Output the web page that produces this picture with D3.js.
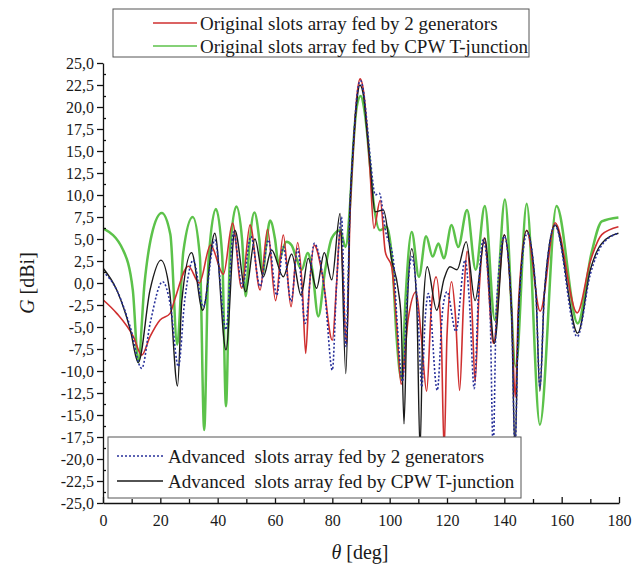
<!DOCTYPE html>
<html>
<head>
<meta charset="utf-8">
<script src="https://cdn.jsdelivr.net/npm/d3@7"></script>
<style>
  body { margin: 0; background: #fff; }
  svg { display: block; }
  text { font-family: "Liberation Serif", "Times New Roman", serif; fill: #1a1a1a; }
</style>
</head>
<body>
<div id="chart"></div>
<script>
// ---- data: [theta deg, G dBi] ----
const origGen = [[0,-1.9],[4.8,-3.45],[10.6,-6.1],[13.5,-8.2],[16.4,-6.1],[19.9,-4.2],[23.4,-3.45],[25,-1.9],
  [29.8,1.9],[33.6,0],[37.5,4.3],[42,1],[45.2,6.8],[48.4,-0.6],[51.3,6.6],[54.8,-0.8],[57.4,6.1],[60.2,-2],
  [62.9,5.45],[65.6,-2.7],[67.9,4.6],[69.6,-1],[70.7,-8.0],[71.9,-1],[73.7,4.3],[76.5,1],[80,-6.5],[81.5,0],
  [82.7,6.0],[85,-7],[86.2,8],[87.3,15],[88.5,21],[89.7,23.2],[91,21.5],[92,18],[93.1,13],[94.5,6.2],[96.7,9.4],
  [98.5,3.5],[100.7,1.85],[102.5,-5],[104,-11.5],[106.5,-4],[109.2,-1.0],[111,-6],[112.9,-12.3],[114.5,-3],
  [116.2,0.7],[118,-6],[119,-19],[120,-6],[121.6,0.15],[123,-4],[124.4,-12.2],[125.8,-2],[127,3.6],[128.7,-3],
  [129.8,-11.2],[131.2,-1],[133,5.1],[136.2,-6.85],[140,5.45],[142.5,-3],[143.8,-13],[145,-2],[147.8,6.0],
  [152.5,-3.2],[157.7,6.85],[165.4,-3.4],[170,2.5],[174,5.5],[179.8,6.4]];

const origCpw = [[0,6.2],[7,3.75],[10.4,-0.8],[12.3,-9.0],[14.5,0],[17,5.5],[20.5,7.95],[23.5,5.5],[25.9,-7],
  [28,3.5],[31.3,7.5],[33.8,3],[35.3,-16.7],[36.8,2.5],[39.4,8.4],[41.6,3],[42.9,-14],[44.3,3.5],[46.5,8.7],
  [48.5,5],[49.8,-1.5],[51,4],[52.8,8.0],[54.5,5],[55.7,1.0],[56.8,4.0],[58.3,7.1],[60,5],[61.2,2.2],[62.4,3.5],
  [64,4.7],[65.8,4.3],[67.3,3],[69.3,1.5],[71.4,3.4],[73,1.5],[75.1,-3.8],[77.5,1.5],[79.8,5.1],[82.7,6.0],
  [84.6,4.1],[86.2,9],[87.3,15.5],[88.5,20],[89.9,21.25],[91,20],[92,17.5],[93.1,13.5],[94.3,9.4],[96.6,6.0],
  [99,6.4],[101,2],[102.4,-6.1],[104.2,-11],[105.5,-2],[107.7,5.8],[110.2,0.7],[112.7,5.3],[115,3.0],[117,4.5],
  [118.9,2.8],[121.6,6.6],[123.9,4.1],[127,8.3],[130,1.5],[133.2,8.75],[136.7,-4.2],[140.2,9.5],[144,-9.5],
  [147.8,9.0],[152.4,-16.1],[158.2,8.75],[165.6,-4.6],[170.4,3.4],[174,7.0],[179.8,7.45]];

const advGen = [[0,1.3],[4.8,-0.8],[9.5,-5],[13.5,-9.7],[16.5,-4.5],[20.8,0.15],[23.5,-2.5],[26.3,-9.5],
  [28.5,-2],[31.5,2.6],[35,-2.7],[39,4.9],[42.9,-5.3],[45.5,5.8],[48.6,-0.4],[51.6,5.3],[54.8,-0.4],[57.7,4.9],
  [60.6,-1.4],[62.9,4.1],[65.6,-2.1],[67.9,3.9],[70.5,-4.6],[73.7,4.5],[77.4,-1.2],[80,-9.9],[81.5,0],[83.2,7.5],
  [84.7,-7.2],[86.2,9],[87.3,15.5],[88.5,21],[89.8,23.0],[91,21.5],[92,18.5],[93.3,14],[95,10],[96.4,10.2],
  [98.5,6],[101.3,2.6],[102.4,-3.45],[104.5,-11.2],[106,-2],[107.7,3.0],[109.8,-3],[111.2,-11.8],[112.4,-4],
  [113.5,-1.2],[116.6,-12.2],[118.5,-3],[120,-1],[123.1,-5.5],[126.3,2.6],[127.8,-2],[129.5,-12],[131,-1],
  [132.6,4.9],[135,-3],[136.1,-19],[137.2,-3],[140,5.3],[142.5,-3],[143.7,-19],[145,-3],[148,5.65],[151,-1],
  [152.4,-11.8],[154,-1],[157.7,6.5],[165.4,-6.1],[170,1],[174,4.3],[179.8,5.65]];

const advCpw = [[0,1.7],[4.8,-0.8],[9.5,-5.3],[12.3,-9.05],[16.4,-0.8],[20.2,2.6],[23.2,-0.8],[26,-11.7],
  [27.5,-2],[30.9,3.45],[34.8,-3.1],[39,5.65],[42.9,-7.6],[46,6.0],[49.8,-1.0],[53,5.0],[55.9,0.7],[58.8,3.75],
  [62.9,0.7],[65.8,3.3],[69.1,-1.4],[71.6,2.8],[74.5,-0.6],[77.2,3.45],[79.8,0.35],[82.7,7.9],[84.7,-10.3],
  [86.2,9],[87.3,15.5],[88.5,20.5],[89.6,22.5],[91,21],[92,17.5],[93.2,13.5],[94.9,8.1],[97.8,8.3],[100.7,2.6],
  [103,-0.8],[104,-4],[105,-16],[106,-4],[107.7,3.9],[109.5,-3],[110.6,-19],[111.7,-3],[113.1,1.85],[116.4,-3.1],
  [119,0.5],[121,1.85],[123.5,1.5],[126.7,4.7],[129.8,-2.0],[133.2,5.1],[136.5,-6.85],[140,5.45],[142.5,-3],
  [143.7,-19],[145,-3],[147.8,5.95],[151,-1],[152.4,-12.3],[154,-1],[157.7,6.6],[165.6,-5.7],[170,1.5],
  [174,4.5],[179.8,5.65]];

const xTicks = [0, 20, 40, 60, 80, 100, 120, 140, 160, 180];
const xMinor = [10, 30, 50, 70, 90, 110, 130, 150, 170];
const yTicks = d3.range(-25, 25.01, 2.5);
const yMinor = d3.range(-23.75, 25, 2.5);

const series = [
  { name: 'Original slots array fed by 2 generators', data: origGen, color: '#cf2f2f', width: 1.6, dash: null },
  { name: 'Original slots array fed by CPW T-junction', data: origCpw, color: '#5cc24a', width: 2.5, dash: null },
  { name: 'Advanced  slots array fed by 2 generators', data: advGen, color: '#27309a', width: 1.6, dash: '2,2' },
  { name: 'Advanced  slots array fed by CPW T-junction', data: advCpw, color: '#1a1a1a', width: 1.4, dash: null }
];

const W = 632, H = 569;
const svg = d3.select('#chart').append('svg').attr('width', W).attr('height', H);

const x = d3.scaleLinear().domain([0, 180]).range([103, 619]);
const y = d3.scaleLinear().domain([-25, 25]).range([503, 63]);

svg.append('clipPath').attr('id', 'plot')
  .append('rect').attr('x', 103).attr('y', 63).attr('width', 516).attr('height', 440);

const line = d3.line().x(d => x(d[0])).y(d => y(d[1])).curve(d3.curveMonotoneX);

// draw order: green, red, black, blue dotted
const drawOrder = [1, 0, 3, 2];
const curves = svg.append('g').attr('clip-path', 'url(#plot)');
drawOrder.forEach(i => {
  const s = series[i];
  curves.append('path')
    .attr('d', line(s.data))
    .attr('fill', 'none')
    .attr('stroke', s.color)
    .attr('stroke-width', s.width)
    .attr('stroke-dasharray', s.dash)
    .attr('stroke-linejoin', 'round');
});

// axes
const loc = d3.formatLocale({ decimal: ',', thousands: '.', grouping: [3], currency: ['', ''], minus: '-' });
const fmt = loc.format('.1f');

svg.append('g').attr('transform', 'translate(103,0)')
  .call(d3.axisLeft(y).tickValues(yTicks).tickFormat(fmt).tickSize(6).tickPadding(3).tickSizeOuter(0));
svg.append('g').attr('transform', 'translate(103,0)')
  .call(d3.axisLeft(y).tickValues(yMinor).tickFormat('').tickSize(-3).tickSizeOuter(0))
  .select('.domain').remove();

svg.append('g').attr('transform', 'translate(0,503)')
  .call(d3.axisBottom(x).tickValues(xTicks).tickSize(-6).tickPadding(12).tickSizeOuter(0));
svg.append('g').attr('transform', 'translate(0,503)')
  .call(d3.axisBottom(x).tickValues(xMinor).tickFormat('').tickSize(-4).tickSizeOuter(0))
  .select('.domain').remove();

svg.selectAll('.tick text')
  .style('font-family', '"Liberation Serif", serif')
  .style('font-size', '16px')
  .attr('fill', '#2a2a2a');
svg.selectAll('.domain, .tick line').attr('stroke', '#111').attr('stroke-width', 1.3);

// axis titles
const yt = svg.append('text')
  .attr('transform', 'translate(34,283) rotate(-90)')
  .attr('text-anchor', 'middle')
  .style('font-size', '20px');
yt.append('tspan').style('font-style', 'italic').text('G');
yt.append('tspan').text(' [dBi]');

const xt = svg.append('text')
  .attr('x', 360).attr('y', 559)
  .attr('text-anchor', 'middle')
  .style('font-size', '20px');
xt.append('tspan').style('font-style', 'italic').text('\u03b8');
xt.append('tspan').text(' [deg]');

// legends
function legend(box, rows, textX, lineX0, lineX1) {
  const g = svg.append('g');
  g.append('rect')
    .attr('x', box[0]).attr('y', box[1]).attr('width', box[2]).attr('height', box[3])
    .attr('fill', '#fff').attr('stroke', '#555').attr('stroke-width', 1);
  rows.forEach(r => {
    const s = series[r.i];
    g.append('line')
      .attr('x1', lineX0).attr('x2', lineX1).attr('y1', r.ly).attr('y2', r.ly)
      .attr('stroke', s.color).attr('stroke-width', Math.min(s.width, 1.6))
      .attr('stroke-dasharray', s.dash);
    g.append('text')
      .attr('x', textX).attr('y', r.ty)
      .style('font-size', '19px')
      .style('white-space', 'pre')
      .text(s.name);
  });
}
legend([113, 9, 416, 48], [{ i: 0, ly: 23, ty: 29.5 }, { i: 1, ly: 46, ty: 52.5 }], 200, 153, 197);
legend([108, 437, 413, 61], [{ i: 2, ly: 456, ty: 463 }, { i: 3, ly: 481, ty: 488 }], 168, 117, 163);
</script>
</body>
</html>
